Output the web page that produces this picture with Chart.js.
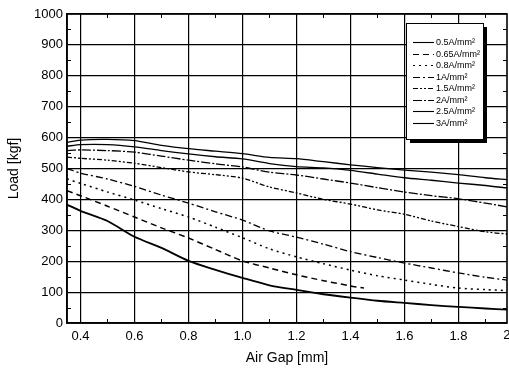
<!DOCTYPE html>
<html>
<head>
<meta charset="utf-8">
<script src="https://cdn.jsdelivr.net/npm/chart.js@4.4.1/dist/chart.umd.min.js"></script>
<style>
  html, body { margin: 0; padding: 0; background: #fff; overflow: hidden; }
  #wrap { width: 509px; height: 375px; }
</style>
</head>
<body>
<div id="wrap"><canvas id="chart" width="509" height="375"></canvas></div>
<script>
const GAP = [0.35, 0.4, 0.5, 0.6, 0.7, 0.8, 0.9, 1.0, 1.1, 1.2, 1.3, 1.4, 1.5, 1.6, 1.7, 1.8, 1.9, 1.98];
const GAP_SHORT = [0.35, 0.4, 0.5, 0.6, 0.7, 0.8, 0.9, 1.0, 1.1, 1.2, 1.3, 1.4, 1.45];

const LOAD_05 = [383, 363, 330, 279, 243, 201, 172, 146, 122, 107, 93, 82, 72, 65, 58, 52, 47, 43];
const LOAD_065 = [428, 412, 378, 343, 308, 275, 238, 201, 178, 156, 137, 120, 113];
const LOAD_08 = [466, 452, 424, 398, 370, 343, 310, 276, 240, 214, 192, 171, 153, 139, 125, 113, 108, 105];
const LOAD_1 = [500, 485, 466, 442, 414, 388, 360, 333, 298, 278, 255, 231, 212, 194, 178, 162, 148, 139];
const LOAD_15 = [537, 533, 527, 517, 503, 489, 480, 469, 440, 421, 400, 385, 366, 352, 330, 312, 295, 288];
const LOAD_2 = [558, 560, 558, 553, 540, 527, 515, 505, 488, 479, 466, 453, 438, 424, 412, 402, 388, 376];
const LOAD_25 = [572, 577, 577, 570, 558, 547, 538, 531, 516, 506, 502, 494, 482, 470, 462, 453, 445, 437];
const LOAD_3 = [585, 592, 594, 590, 575, 564, 556, 548, 536, 532, 522, 512, 503, 495, 488, 480, 470, 464];

const X_TICKS = [0.4, 0.6, 0.8, 1.0, 1.2, 1.4, 1.6, 1.8];
const Y_TICKS = [0, 100, 200, 300, 400, 500, 600, 700, 800, 900, 1000];

const FONT = "'Liberation Sans', Arial, sans-serif";

function points(xs, values) {
  return values.map((v, i) => ({ x: xs[i], y: v }));
}

function series(label, xs, values, dash, width) {
  return {
    label,
    data: points(xs, values),
    borderColor: "#000",
    borderWidth: width,
    borderDash: dash,
    pointRadius: 0,
    fill: false,
    tension: 0.25,
  };
}

// frame, inward minor ticks, cropped "2.0" label and the boxed legend
const decorations = {
  id: "decorations",
  afterDraw(chart) {
    const { ctx, chartArea: a, scales: { x, y } } = chart;
    ctx.save();
    ctx.strokeStyle = "#000";
    ctx.lineWidth = 1;
    ctx.beginPath();
    for (let v = 50; v < 1000; v += 100) {
      const py = Math.round(y.getPixelForValue(v)) + 0.5;
      ctx.moveTo(a.left, py); ctx.lineTo(a.left + 4, py);
      ctx.moveTo(a.right, py); ctx.lineTo(a.right - 4, py);
    }
    for (let v = 0.5; v < 1.98; v += 0.2) {
      const px = Math.round(x.getPixelForValue(v)) + 0.5;
      ctx.moveTo(px, a.bottom); ctx.lineTo(px, a.bottom - 4);
      ctx.moveTo(px, a.top); ctx.lineTo(px, a.top + 4);
    }
    ctx.stroke();

    ctx.lineWidth = 1.6;
    ctx.strokeRect(a.left, a.top, a.right - a.left, a.bottom - a.top);

    // the 2.0 label sits past the page edge, like the cropped original
    ctx.fillStyle = "#000";
    ctx.font = `13px ${FONT}`;
    ctx.textAlign = "center";
    ctx.textBaseline = "top";
    ctx.fillText("2.0", x.getPixelForValue(2.0), a.bottom + 6);

    // legend box with drop shadow
    const bx = 406, by = 23, bw = 77, bh = 116;
    ctx.fillStyle = "#000";
    ctx.fillRect(bx + 4, by + 4, bw, bh);
    ctx.fillStyle = "#fff";
    ctx.fillRect(bx, by, bw, bh);
    ctx.lineWidth = 1;
    ctx.strokeRect(bx + 0.5, by + 0.5, bw, bh);

    ctx.font = `9px ${FONT}`;
    ctx.textAlign = "left";
    ctx.textBaseline = "middle";
    chart.data.datasets.forEach((ds, i) => {
      const ly = Math.round(42 + i * 11.5) + 0.5;
      ctx.beginPath();
      ctx.setLineDash(ds.borderDash || []);
      ctx.lineWidth = 1.1;
      ctx.moveTo(413, ly);
      ctx.lineTo(434, ly);
      ctx.stroke();
      ctx.setLineDash([]);
      ctx.fillStyle = "#000";
      ctx.fillText(ds.label, 436, ly);
    });
    ctx.restore();
  },
};

new Chart(document.getElementById("chart"), {
  type: "line",
  data: {
    datasets: [
      series("0.5A/mm²", GAP, LOAD_05, [], 1.8),
      series("0.65A/mm²", GAP_SHORT, LOAD_065, [6, 4], 1.5),
      series("0.8A/mm²", GAP, LOAD_08, [2, 4], 1.5),
      series("1A/mm²", GAP, LOAD_1, [7, 3, 2, 3], 1.3),
      series("1.5A/mm²", GAP, LOAD_15, [5, 2, 2, 2, 2, 2], 1.3),
      series("2A/mm²", GAP, LOAD_2, [9, 2, 2, 2], 1.3),
      series("2.5A/mm²", GAP, LOAD_25, [], 1.3),
      series("3A/mm²", GAP, LOAD_3, [], 1.3),
    ],
  },
  options: {
    responsive: false,
    animation: false,
    devicePixelRatio: 1,
    layout: { padding: { top: 14, right: 2, left: 0, bottom: 0 } },
    plugins: { legend: { display: false }, tooltip: { enabled: false } },
    scales: {
      x: {
        type: "linear",
        min: 0.35,
        max: 1.98,
        afterBuildTicks: (s) => { s.ticks = X_TICKS.map((v) => ({ value: v })); },
        afterFit: (s) => { s.height = 52; },
        grid: { color: "#000", lineWidth: 1.2, drawTicks: false },
        border: { color: "#000", width: 1.6 },
        ticks: {
          color: "#000",
          padding: 6,
          font: { family: FONT, size: 13 },
          maxRotation: 0,
          callback: (v) => Number(v).toFixed(1),
        },
        title: {
          display: true,
          text: "Air Gap [mm]",
          color: "#000",
          font: { family: FONT, size: 14 },
          padding: { top: 0, bottom: 8 },
        },
      },
      y: {
        min: 0,
        max: 1000,
        afterBuildTicks: (s) => { s.ticks = Y_TICKS.map((v) => ({ value: v })); },
        afterFit: (s) => { s.width = 67; },
        grid: { color: "#000", lineWidth: 1.2, drawTicks: false },
        border: { color: "#000", width: 1.6 },
        ticks: {
          color: "#000",
          padding: 4,
          font: { family: FONT, size: 13 },
          callback: (v) => String(v),
        },
        title: {
          display: true,
          text: "Load [kgf]",
          color: "#000",
          font: { family: FONT, size: 14 },
          padding: { top: 6, bottom: 0 },
        },
      },
    },
  },
  plugins: [decorations],
});
</script>
</body>
</html>
